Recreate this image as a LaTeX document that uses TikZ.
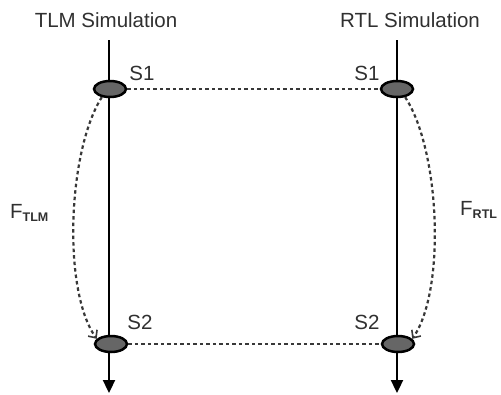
\documentclass[tikz,border=0pt]{standalone}
\usepackage{fontspec}
\setmainfont{Liberation Sans}
\usetikzlibrary{arrows.meta,shapes.geometric}
\definecolor{txt}{HTML}{303030}
\definecolor{dotline}{HTML}{383838}
\definecolor{evfill}{HTML}{666666}
\tikzset{
  timeline/.style={line width=2.3pt,black,-{Triangle[width=12pt,length=13pt]}},
  event/.style={ellipse,draw=black,line width=2.5pt,fill=evfill,minimum width=32pt,minimum height=16pt,inner sep=0pt},
  sync/.style={dotline,line width=2.2pt,dash pattern=on 3.5pt off 3pt},
  flow/.style={sync,-{Straight Barb[width=11pt,length=6pt,line width=1.6pt]}},
  lbl/.style={txt,font=\fontsize{20.5}{20.5}\selectfont,inner sep=0pt},
}
\begin{document}
\begin{tikzpicture}[x=1pt,y=-1pt]
\useasboundingbox (0,0) rectangle (501,394);
% titles
\node[lbl] (ttlm) at (106,20) {TLM Simulation};
\node[lbl] (trtl) at (410,20) {RTL Simulation};
% time axes
\coordinate (tlmtop) at (109,40);
\coordinate (tlmbot) at (109,393);
\coordinate (rtltop) at (397,40);
\coordinate (rtlbot) at (397,393);
\draw[timeline] (tlmtop) -- (tlmbot);
\draw[timeline] (rtltop) -- (rtlbot);
% synchronisation points
\node[event] (s1l) at (110,89) {};
\node[event] (s1r) at (397,89) {};
\node[event] (s2l) at (111,344) {};
\node[event] (s2r) at (398,344) {};
\node[lbl] (l1l) at (142,73) {S1};
\node[lbl] (l1r) at (367,73) {S1};
\node[lbl] (l2l) at (140,322) {S2};
\node[lbl] (l2r) at (367,322) {S2};
% correspondences
\draw[sync] (s1l) -- (s1r);
\draw[sync] (s2l) -- (s2r);
% functions between points
\draw[flow] (s1l.225) .. controls (68,150) and (62,290) .. (s2l.160);
\draw[flow] (s1r.-45) .. controls (440,150) and (446,290) .. (s2r.20);
\node[lbl,anchor=west] (ftlm) at (10,213) {F\textsubscript{\fontsize{12.5}{12.5}\selectfont\bfseries TLM}};
\node[lbl,anchor=west] (frtl) at (460,210) {F\textsubscript{\fontsize{12.5}{12.5}\selectfont\bfseries RTL}};
\end{tikzpicture}
\end{document}
